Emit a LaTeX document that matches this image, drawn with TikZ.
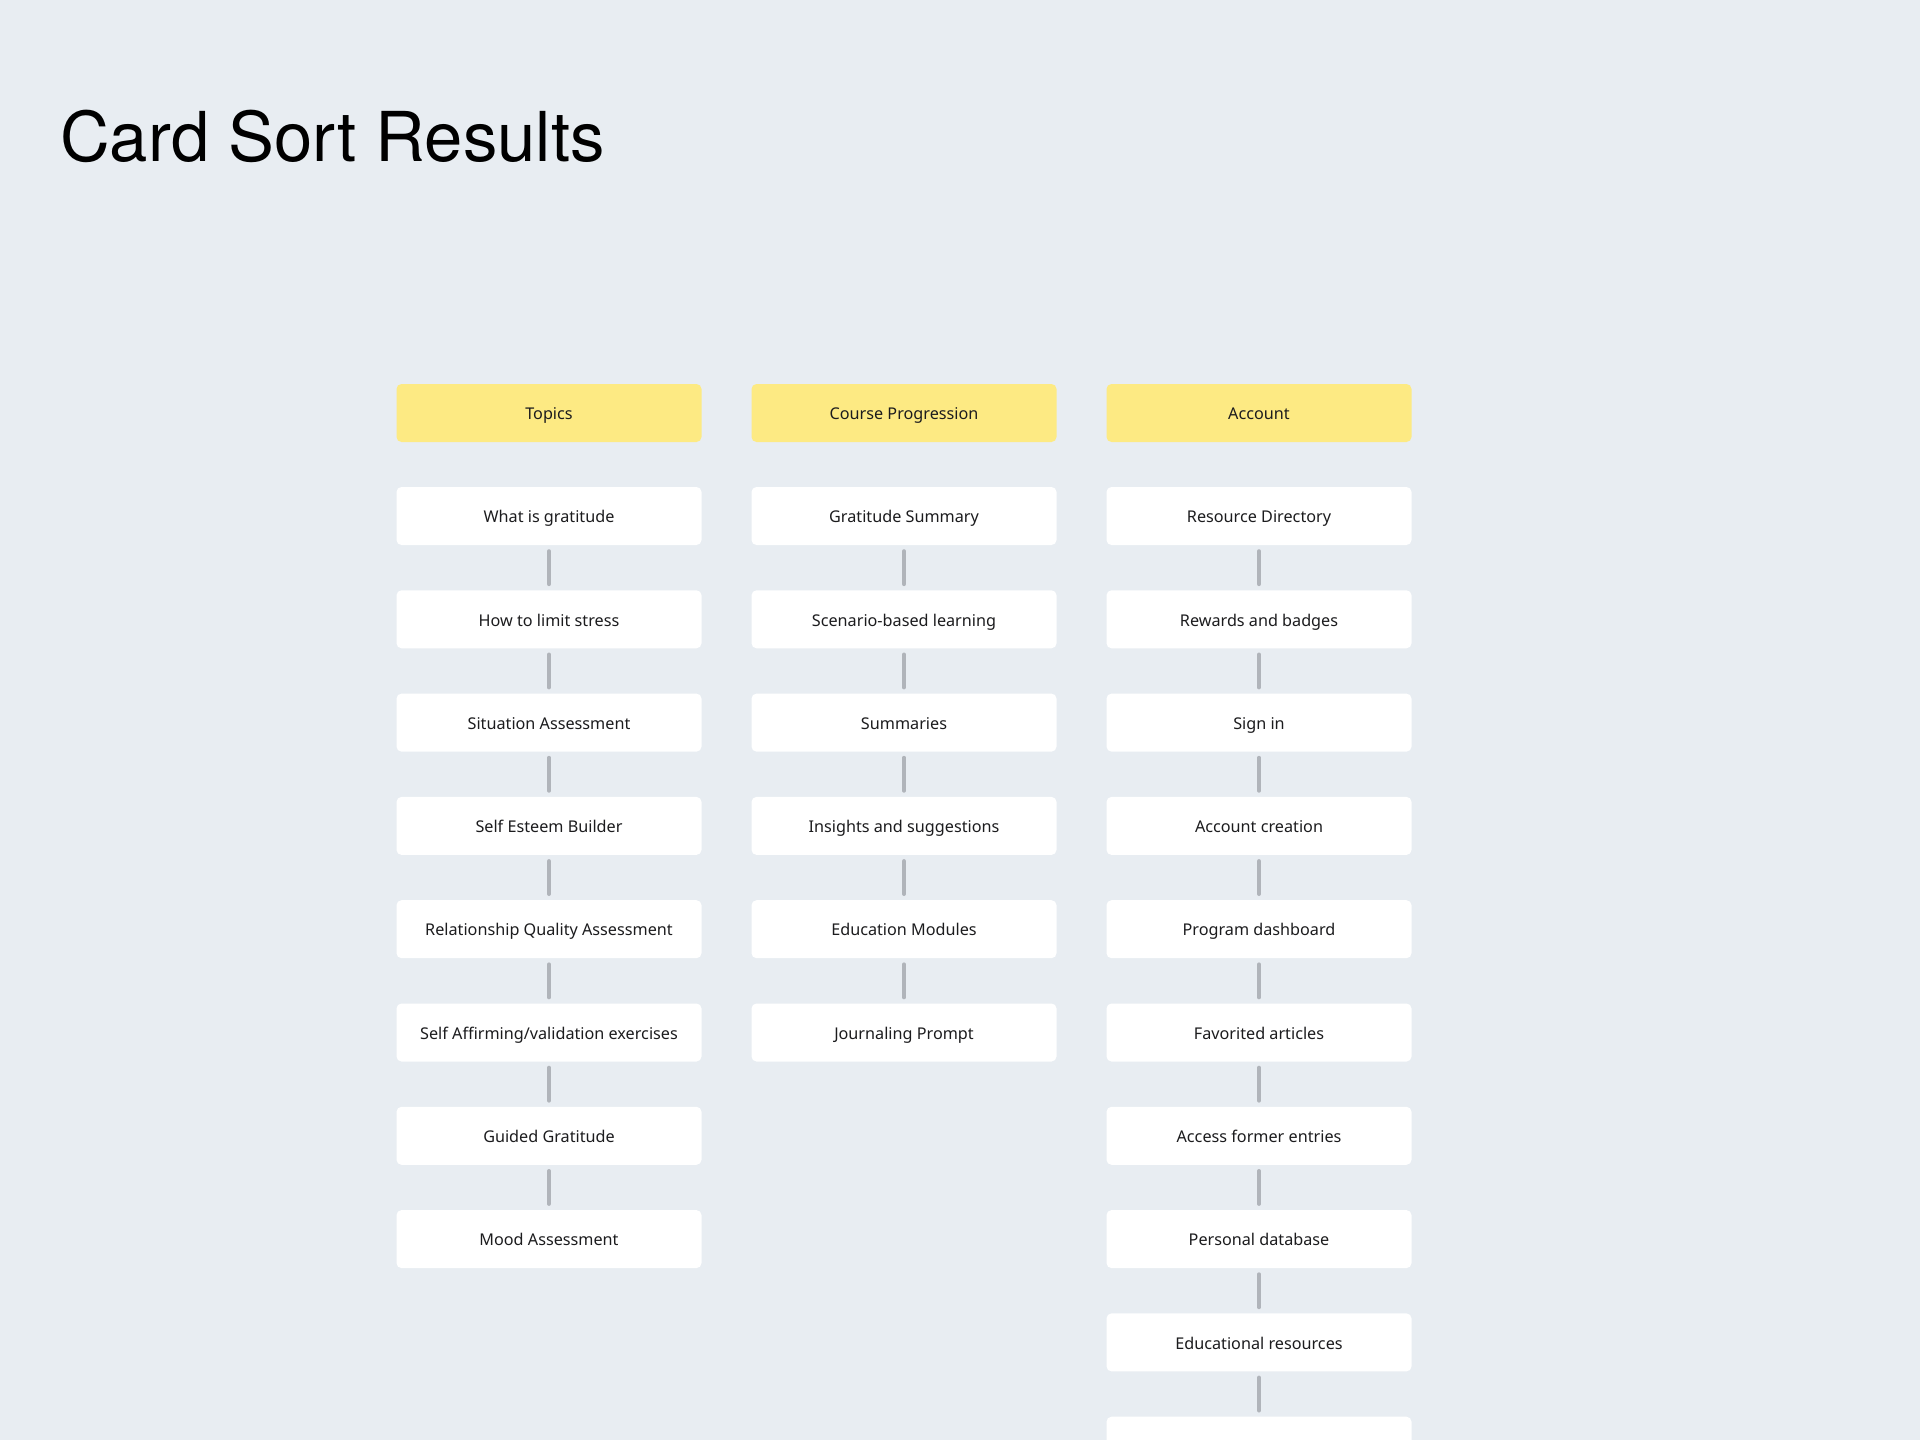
\documentclass[tikz,border=0pt]{standalone}
\usepackage{fontspec}
\setmainfont{Noto Sans}
\newfontfamily\titlefont{TeX Gyre Heros}
\definecolor{bgc}{RGB}{232,237,242}
\definecolor{hdr}{RGB}{253,234,131}
\definecolor{conc}{RGB}{176,180,186}
\definecolor{txt}{RGB}{28,28,30}
\tikzset{
  cardbox/.style={draw=none, fill=white, rounded corners=5pt, minimum width=305pt, minimum height=58pt, inner sep=0pt, text height=17pt, text depth=3.5pt, text=txt, font=\fontsize{16.2}{19}\selectfont},
  hdrbox/.style={cardbox, fill=hdr},
  conn/.style={draw=conc, line width=4pt, line cap=round, shorten <=6pt, shorten >=6pt}
}
\begin{document}
\begin{tikzpicture}[x=1pt,y=-1pt]
\useasboundingbox (0,0) rectangle (1920,1440);
\clip (0,0) rectangle (1920,1440);
\fill[bgc] (0,0) rectangle (1920,1440);
\node[anchor=base west, inner sep=0pt, font=\titlefont\fontsize{68.8}{80}\selectfont] (title) at (60,161) {Card Sort Results};
% headers
\node[hdrbox] (h1) at (549,413) {Topics};
\node[hdrbox] (h2) at (904,413) {Course Progression};
\node[hdrbox] (h3) at (1259,413) {Account};
% column 1
\foreach \t [count=\i] in {What is gratitude, How to limit stress, Situation Assessment, Self Esteem Builder, Relationship Quality Assessment, Self Affirming/validation exercises, Guided Gratitude, Mood Assessment}{
  \node[cardbox] (a\i) at (549,{516+(\i-1)*103.3}) {\t};
}
\foreach \i [evaluate=\i as \j using int(\i+1)] in {1,...,7}{
  \draw[conn] (a\i) -- (a\j);
}
% column 2
\foreach \t [count=\i] in {Gratitude Summary, Scenario-based learning, Summaries, Insights and suggestions, Education Modules, Journaling Prompt}{
  \node[cardbox] (b\i) at (904,{516+(\i-1)*103.3}) {\t};
}
\foreach \i [evaluate=\i as \j using int(\i+1)] in {1,...,5}{
  \draw[conn] (b\i) -- (b\j);
}
% column 3
\foreach \t [count=\i] in {Resource Directory, Rewards and badges, Sign in, Account creation, Program dashboard, Favorited articles, Access former entries, Personal database, Educational resources, {}}{
  \node[cardbox] (c\i) at (1259,{516+(\i-1)*103.3}) {\t};
}
\foreach \i [evaluate=\i as \j using int(\i+1)] in {1,...,9}{
  \draw[conn] (c\i) -- (c\j);
}
\end{tikzpicture}
\end{document}
